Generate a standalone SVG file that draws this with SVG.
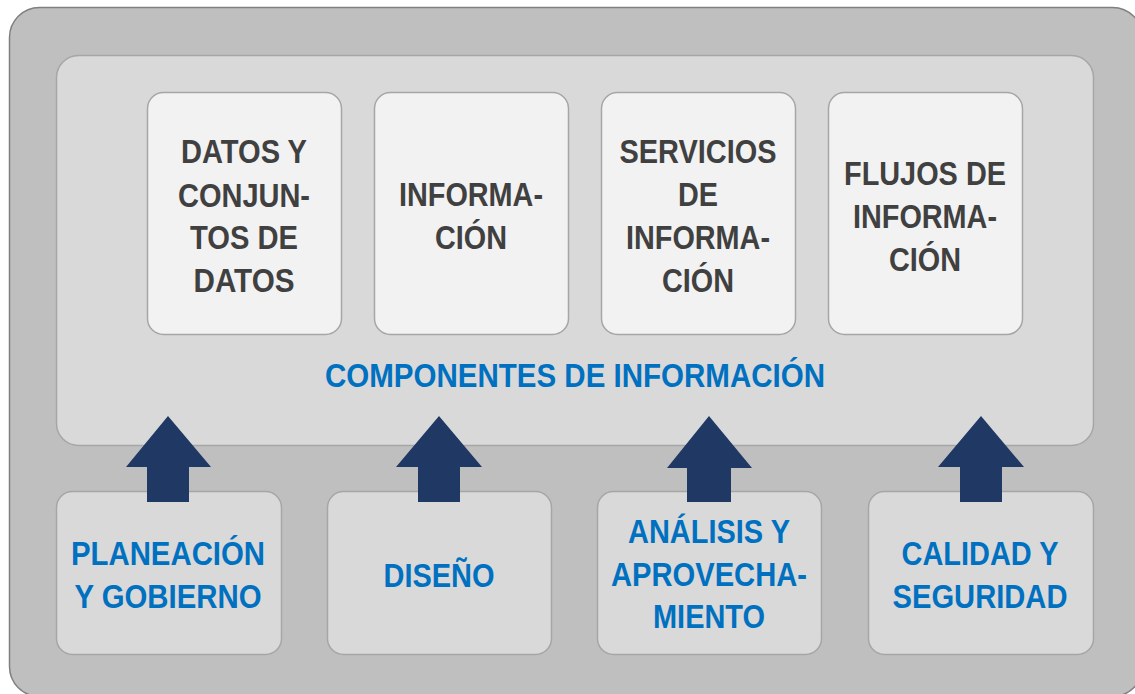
<svg xmlns="http://www.w3.org/2000/svg" width="1135" height="694" viewBox="0 0 1135 694">
<style>
.outer{fill:#bfbfbf;stroke:#808080;stroke-width:1.5}
.inner{fill:#d9d9d9;stroke:#a6a6a6;stroke-width:1.5}
.top{fill:#f2f2f2;stroke:#a6a6a6;stroke-width:1.5}
.bot{fill:#d9d9d9;stroke:#a6a6a6;stroke-width:1.5}
.arrow{fill:#1f3864}
text{font-family:"Liberation Sans",Arial,sans-serif;font-weight:bold;font-size:34px;text-anchor:middle}
.dk{fill:#404040}
.bl{fill:#0070c0}
</style>
<rect class="outer" x="9.5" y="7.5" width="1133" height="689" rx="30"/>
<g id="componentes">
<rect class="inner" x="56.5" y="55.5" width="1037" height="390" rx="22"/>
<text class="bl" x="575" y="387" textLength="500" lengthAdjust="spacingAndGlyphs">COMPONENTES DE INFORMACIÓN</text>
</g>
<g id="datos">
<rect class="top" x="147.5" y="92.5" width="194" height="242" rx="16"/>
<text class="dk" x="244" y="163" textLength="126" lengthAdjust="spacingAndGlyphs">DATOS Y</text>
<text class="dk" x="244" y="207" textLength="132" lengthAdjust="spacingAndGlyphs">CONJUN-</text>
<text class="dk" x="244" y="249" textLength="108" lengthAdjust="spacingAndGlyphs">TOS DE</text>
<text class="dk" x="244" y="292" textLength="101" lengthAdjust="spacingAndGlyphs">DATOS</text>
</g>
<g id="informacion">
<rect class="top" x="374.5" y="92.5" width="194" height="242" rx="16"/>
<text class="dk" x="471" y="206" textLength="144" lengthAdjust="spacingAndGlyphs">INFORMA-</text>
<text class="dk" x="471" y="249" textLength="72" lengthAdjust="spacingAndGlyphs">CIÓN</text>
</g>
<g id="servicios">
<rect class="top" x="601.5" y="92.5" width="194" height="242" rx="16"/>
<text class="dk" x="698" y="163" textLength="157" lengthAdjust="spacingAndGlyphs">SERVICIOS</text>
<text class="dk" x="698" y="206" textLength="40" lengthAdjust="spacingAndGlyphs">DE</text>
<text class="dk" x="698" y="249" textLength="144" lengthAdjust="spacingAndGlyphs">INFORMA-</text>
<text class="dk" x="698" y="292" textLength="72" lengthAdjust="spacingAndGlyphs">CIÓN</text>
</g>
<g id="flujos">
<rect class="top" x="828.5" y="92.5" width="194" height="242" rx="16"/>
<text class="dk" x="925" y="185" textLength="162" lengthAdjust="spacingAndGlyphs">FLUJOS DE</text>
<text class="dk" x="925" y="228" textLength="144" lengthAdjust="spacingAndGlyphs">INFORMA-</text>
<text class="dk" x="925" y="271" textLength="72" lengthAdjust="spacingAndGlyphs">CIÓN</text>
</g>
<g id="planeacion">
<rect class="bot" x="56.5" y="491.5" width="225" height="163" rx="16"/>
<text class="bl" x="168" y="565" textLength="194" lengthAdjust="spacingAndGlyphs">PLANEACIÓN</text>
<text class="bl" x="168" y="608" textLength="187" lengthAdjust="spacingAndGlyphs">Y GOBIERNO</text>
</g>
<g id="diseno">
<rect class="bot" x="327.5" y="491.5" width="224" height="163" rx="16"/>
<text class="bl" x="439" y="587" textLength="111" lengthAdjust="spacingAndGlyphs">DISEÑO</text>
</g>
<g id="analisis">
<rect class="bot" x="597.5" y="491.5" width="224" height="163" rx="16"/>
<text class="bl" x="709" y="543" textLength="162" lengthAdjust="spacingAndGlyphs">ANÁLISIS Y</text>
<text class="bl" x="709" y="586" textLength="196" lengthAdjust="spacingAndGlyphs">APROVECHA-</text>
<text class="bl" x="709" y="628" textLength="112" lengthAdjust="spacingAndGlyphs">MIENTO</text>
</g>
<g id="calidad">
<rect class="bot" x="868.5" y="491.5" width="225" height="163" rx="16"/>
<text class="bl" x="980" y="565" textLength="157" lengthAdjust="spacingAndGlyphs">CALIDAD Y</text>
<text class="bl" x="980" y="608" textLength="175" lengthAdjust="spacingAndGlyphs">SEGURIDAD</text>
</g>
<g id="connectors">
<polygon class="arrow" points="168,416 211,467 189,467 189,502 147,502 147,467 126,467"/>
<polygon class="arrow" points="439,416 482,467 460,467 460,502 418,502 418,467 396,467"/>
<polygon class="arrow" points="709,416 752,468 731,468 731,502 687,502 687,468 667,468"/>
<polygon class="arrow" points="981,416 1024,467 1002,467 1002,502 960,502 960,467 938,467"/>
</g>
</svg>
